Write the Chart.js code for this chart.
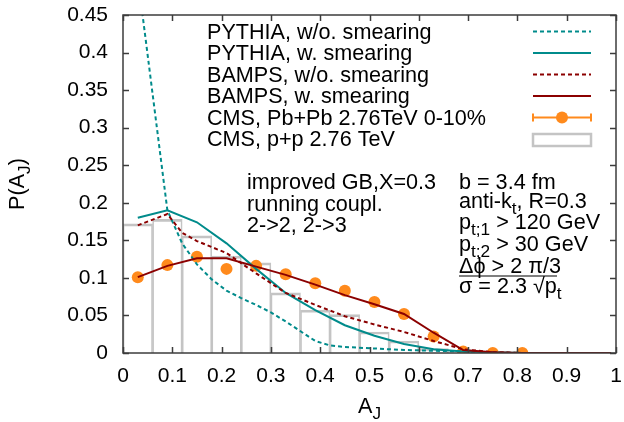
<!DOCTYPE html>
<html>
<head>
<meta charset="utf-8">
<script src="https://cdn.jsdelivr.net/npm/chart.js@4.4.1/dist/chart.umd.min.js"></script>
<style>
    html, body { margin: 0; padding: 0; background: #fff; }
    #wrap { width: 624px; height: 422px; }
</style>
</head>
<body>
<div id="wrap"><canvas id="ajChart" width="624" height="422"></canvas></div>
<script>
// CMS p+p histogram (bin centres, width 0.06)
var binCenters = [ 0.03, 0.09, 0.15, 0.21, 0.27, 0.33, 0.39, 0.45, 0.51, 0.57, 0.63 ];
var ppValues = [ 0.172, 0.178, 0.156, 0.129, 0.120, 0.080, 0.057, 0.051, 0.028, 0.016, 0.006 ];

// CMS Pb+Pb 0-10% points
var pbpbX = [ 0.03, 0.09, 0.15, 0.21, 0.27, 0.33, 0.39, 0.45, 0.51, 0.57, 0.63, 0.69, 0.75, 0.81 ];
var pbpbValues = [ 0.101, 0.117, 0.128, 0.112, 0.116, 0.105, 0.093, 0.083, 0.068, 0.052, 0.022, 0.002, 0.0, 0.0 ];

// model curves
var modelX = [ 0.03, 0.09, 0.15, 0.21, 0.27, 0.33, 0.39, 0.45, 0.51, 0.57, 0.63, 0.69, 0.75, 0.81, 0.87, 0.93, 0.99 ];
var bampsSmeared = [ 0.101, 0.116, 0.126, 0.126, 0.115, 0.104, 0.091, 0.077, 0.065, 0.052, 0.027, 0.004, 0.001, 0, 0, 0, 0 ];
var pythiaSmeared = [ 0.180, 0.190, 0.174, 0.146, 0.112, 0.080, 0.057, 0.037, 0.023, 0.012, 0.005, 0.002, 0.001, 0, 0, 0, 0 ];

var bampsRawX = [ 0.03, 0.09, 0.12, 0.15, 0.21, 0.27, 0.33, 0.39, 0.45, 0.51, 0.57, 0.63, 0.69, 0.75, 0.81, 0.87, 0.93, 0.99 ];
var bampsRaw = [ 0.170, 0.185, 0.160, 0.149, 0.133, 0.106, 0.080, 0.064, 0.049, 0.038, 0.028, 0.016, 0.005, 0.001, 0, 0, 0, 0 ];

var pythiaRawX = [ 0.03, 0.09, 0.12, 0.15, 0.18, 0.21, 0.24, 0.27, 0.30, 0.33, 0.36, 0.39, 0.42, 0.45, 0.51, 0.57, 0.63, 0.69, 0.75, 0.81, 0.87, 0.93, 0.99 ];
var pythiaRaw = [ 0.50, 0.190, 0.146, 0.118, 0.098, 0.083, 0.073, 0.064, 0.054, 0.042, 0.029, 0.016, 0.010, 0.008, 0.006, 0.004, 0.003, 0.002, 0.001, 0, 0, 0, 0 ];

var legendLabels = [
    'PYTHIA, w/o. smearing',
    'PYTHIA, w. smearing',
    'BAMPS, w/o. smearing',
    'BAMPS, w. smearing',
    'CMS, Pb+Pb 2.76TeV 0-10%',
    'CMS, p+p 2.76 TeV'
];

var FONT = '"Liberation Sans", Arial, sans-serif';
var FS = 21;      // tick labels
var TS = 21.6;    // key and labels
var TEAL = '#008b8b';
var DARKRED = '#8b0000';
var ORANGE = '#ff8a1c';
var GRAY = '#c4c4c4';

function toPoints ( xs, ys )
{
    return xs.map( function ( x, i ) { return { x: x, y: ys[ i ] }; } );
}

// gnuplot style numbers: 0, 0.05, 0.1 ... 1
function plainTick ( value )
{
    return String( Number( value.toFixed( 2 ) ) );
}

// text with subscripts: plain strings are normal, one-element arrays are subscripts
function drawRich ( ctx, x, y, parts, size )
{
    parts.forEach( function ( p )
    {
        var sub = Array.isArray( p );
        var t = sub ? p[ 0 ] : p;
        var s = sub ? size * 0.8 : size;
        ctx.font = s + 'px ' + FONT;
        ctx.fillText( t, x, y + ( sub ? size * 0.3 : 0 ) );
        x += ctx.measureText( t ).width;
    } );
    return x;
}

function richWidth ( ctx, parts, size )
{
    var w = 0;
    parts.forEach( function ( p )
    {
        var sub = Array.isArray( p );
        ctx.font = ( sub ? size * 0.8 : size ) + 'px ' + FONT;
        w += ctx.measureText( sub ? p[ 0 ] : p ).width;
    } );
    return w;
}

var framePlugin = {
    id: 'gnuFrame',
    afterDatasetsDraw: function ( chart )
    {
        var ctx = chart.ctx, a = chart.chartArea;
        var xs = chart.scales.x, ys = chart.scales.y;
        ctx.save();
        ctx.strokeStyle = '#3c3c3c';
        ctx.lineWidth = 1.5;
        ctx.strokeRect( a.left, a.top, a.right - a.left, a.bottom - a.top );
        ctx.beginPath();
        xs.ticks.forEach( function ( t )
        {
            var px = Math.round( xs.getPixelForValue( t.value ) ) + 0.5;
            ctx.moveTo( px, a.bottom ); ctx.lineTo( px, a.bottom - 6 );
            ctx.moveTo( px, a.top ); ctx.lineTo( px, a.top + 6 );
        } );
        ys.ticks.forEach( function ( t )
        {
            var py = Math.round( ys.getPixelForValue( t.value ) ) + 0.5;
            ctx.moveTo( a.left, py ); ctx.lineTo( a.left + 6, py );
            ctx.moveTo( a.right, py ); ctx.lineTo( a.right - 6, py );
        } );
        ctx.stroke();
        ctx.restore();
    },
    afterDraw: function ( chart )
    {
        var ctx = chart.ctx;
        var ds = chart.data.datasets;
        ctx.save();
        ctx.fillStyle = '#000';
        ctx.textBaseline = 'alphabetic';
        ctx.textAlign = 'left';

        // key, top right
        var x0 = 533, x1 = 591;
        legendLabels.forEach( function ( label, i )
        {
            var base = 38.5 + i * 21.5;
            var mid = base - 7;
            ctx.font = TS + 'px ' + FONT;
            ctx.fillStyle = '#000';
            ctx.fillText( label, 207, base );
            var d = ds[ i ];
            ctx.save();
            if ( i < 4 )
            {
                ctx.strokeStyle = d.borderColor;
                ctx.lineWidth = d.borderWidth;
                ctx.setLineDash( d.borderDash || [] );
                ctx.beginPath(); ctx.moveTo( x0, mid ); ctx.lineTo( x1, mid ); ctx.stroke();
            } else if ( i === 4 )
            {
                ctx.strokeStyle = ORANGE;
                ctx.lineWidth = 2;
                ctx.beginPath();
                ctx.moveTo( x0, mid ); ctx.lineTo( x1, mid );
                ctx.moveTo( x0, mid - 4 ); ctx.lineTo( x0, mid + 4 );
                ctx.moveTo( x1, mid - 4 ); ctx.lineTo( x1, mid + 4 );
                ctx.stroke();
                ctx.fillStyle = ORANGE;
                ctx.beginPath(); ctx.arc( ( x0 + x1 ) / 2, mid, 6, 0, Math.PI * 2 ); ctx.fill();
            } else
            {
                ctx.strokeStyle = GRAY;
                ctx.lineWidth = 2.5;
                ctx.strokeRect( x0, mid - 5, x1 - x0, 12 );
            }
            ctx.restore();
        } );

        // model labels
        ctx.fillStyle = '#000';
        var left = [ [ 'improved GB,X=0.3' ], [ 'running coupl.' ], [ '2->2, 2->3' ] ];
        left.forEach( function ( parts, i )
        {
            drawRich( ctx, 247, 189 + i * 21.5, parts, TS );
        } );
        var right = [
            [ 'b = 3.4 fm' ],
            [ 'anti-k', [ 't' ], ', R=0.3' ],
            [ 'p', [ 't;1' ], ' > 120 GeV' ],
            [ 'p', [ 't;2' ], ' > 30 GeV' ],
            [ '\u0394\u03d5 > 2 \u03c0/3' ],
            [ '\u03c3 = 2.3 \u221ap', [ 't' ] ]
        ];
        var rightBase = [ 189, 208, 229, 250.5, 273, 293 ];
        right.forEach( function ( parts, i )
        {
            drawRich( ctx, 459, rightBase[ i ], parts, TS );
        } );
        ctx.strokeStyle = '#000';
        ctx.lineWidth = 1.2;
        ctx.beginPath(); ctx.moveTo( 459, 276 ); ctx.lineTo( 557, 276 ); ctx.stroke();

        // axis titles
        var xt = [ 'A', [ 'J' ] ];
        var w = richWidth( ctx, xt, TS );
        var a = chart.chartArea;
        drawRich( ctx, ( a.left + a.right ) / 2 - w / 2, 413, xt, TS );

        var yt = [ 'P(A', [ 'J' ], ')' ];
        w = richWidth( ctx, yt, TS );
        ctx.translate( 24, ( a.top + a.bottom ) / 2 );
        ctx.rotate( -Math.PI / 2 );
        drawRich( ctx, -w / 2, 0, yt, TS );
        ctx.restore();
    }
};

var ctx = document.getElementById( 'ajChart' ).getContext( '2d' );

var ajChart = new Chart( ctx, {
    type: 'line',
    data: {
        datasets: [
            {
                label: legendLabels[ 0 ],
                data: toPoints( pythiaRawX, pythiaRaw ),
                borderColor: TEAL,
                borderWidth: 2,
                borderDash: [ 4, 3 ],
                pointRadius: 0,
                fill: false,
                order: 4
            },
            {
                label: legendLabels[ 1 ],
                data: toPoints( modelX, pythiaSmeared ),
                borderColor: TEAL,
                borderWidth: 2,
                pointRadius: 0,
                fill: false,
                order: 3
            },
            {
                label: legendLabels[ 2 ],
                data: toPoints( bampsRawX, bampsRaw ),
                borderColor: DARKRED,
                borderWidth: 2,
                borderDash: [ 4, 3 ],
                pointRadius: 0,
                fill: false,
                order: 2
            },
            {
                label: legendLabels[ 3 ],
                data: toPoints( modelX, bampsSmeared ),
                borderColor: DARKRED,
                borderWidth: 2,
                pointRadius: 0,
                fill: false,
                order: 1
            },
            {
                label: legendLabels[ 4 ],
                data: toPoints( pbpbX, pbpbValues ),
                showLine: false,
                pointRadius: 6,
                pointBorderWidth: 0,
                pointBackgroundColor: ORANGE,
                borderColor: ORANGE,
                order: 9
            },
            {
                type: 'bar',
                label: legendLabels[ 5 ],
                data: toPoints( binCenters, ppValues ),
                backgroundColor: 'rgba(0,0,0,0)',
                borderColor: GRAY,
                borderWidth: { left: 1, right: 1, top: 2, bottom: 0 },
                borderSkipped: false,
                barPercentage: 1,
                categoryPercentage: 1,
                order: 10
            }
        ]
    },
    options: {
        responsive: false,
        animation: false,
        devicePixelRatio: 1,
        layout: { padding: { top: 15, right: 8, left: 0, bottom: 0 } },
        plugins: {
            legend: { display: false },
            tooltip: { enabled: false }
        },
        scales: {
            x: {
                type: 'linear',
                min: 0,
                max: 1,
                offset: false,
                grid: { display: false, drawTicks: false },
                border: { display: false },
                ticks: {
                    stepSize: 0.1,
                    padding: 11,
                    maxRotation: 0,
                    color: '#000',
                    font: { family: FONT, size: FS },
                    callback: plainTick
                },
                afterFit: function ( scale )
                {
                    scale.height = 69;
                    scale.paddingLeft = 0;
                    scale.paddingRight = 0;
                }
            },
            y: {
                type: 'linear',
                min: 0,
                max: 0.45,
                grid: { display: false, drawTicks: false },
                border: { display: false },
                ticks: {
                    stepSize: 0.05,
                    padding: 15,
                    color: '#000',
                    font: { family: FONT, size: FS },
                    callback: plainTick
                },
                afterFit: function ( scale )
                {
                    scale.width = 123;
                    scale.paddingTop = 0;
                    scale.paddingBottom = 0;
                }
            }
        }
    },
    plugins: [ framePlugin ]
} );
</script>
</body>
</html>
